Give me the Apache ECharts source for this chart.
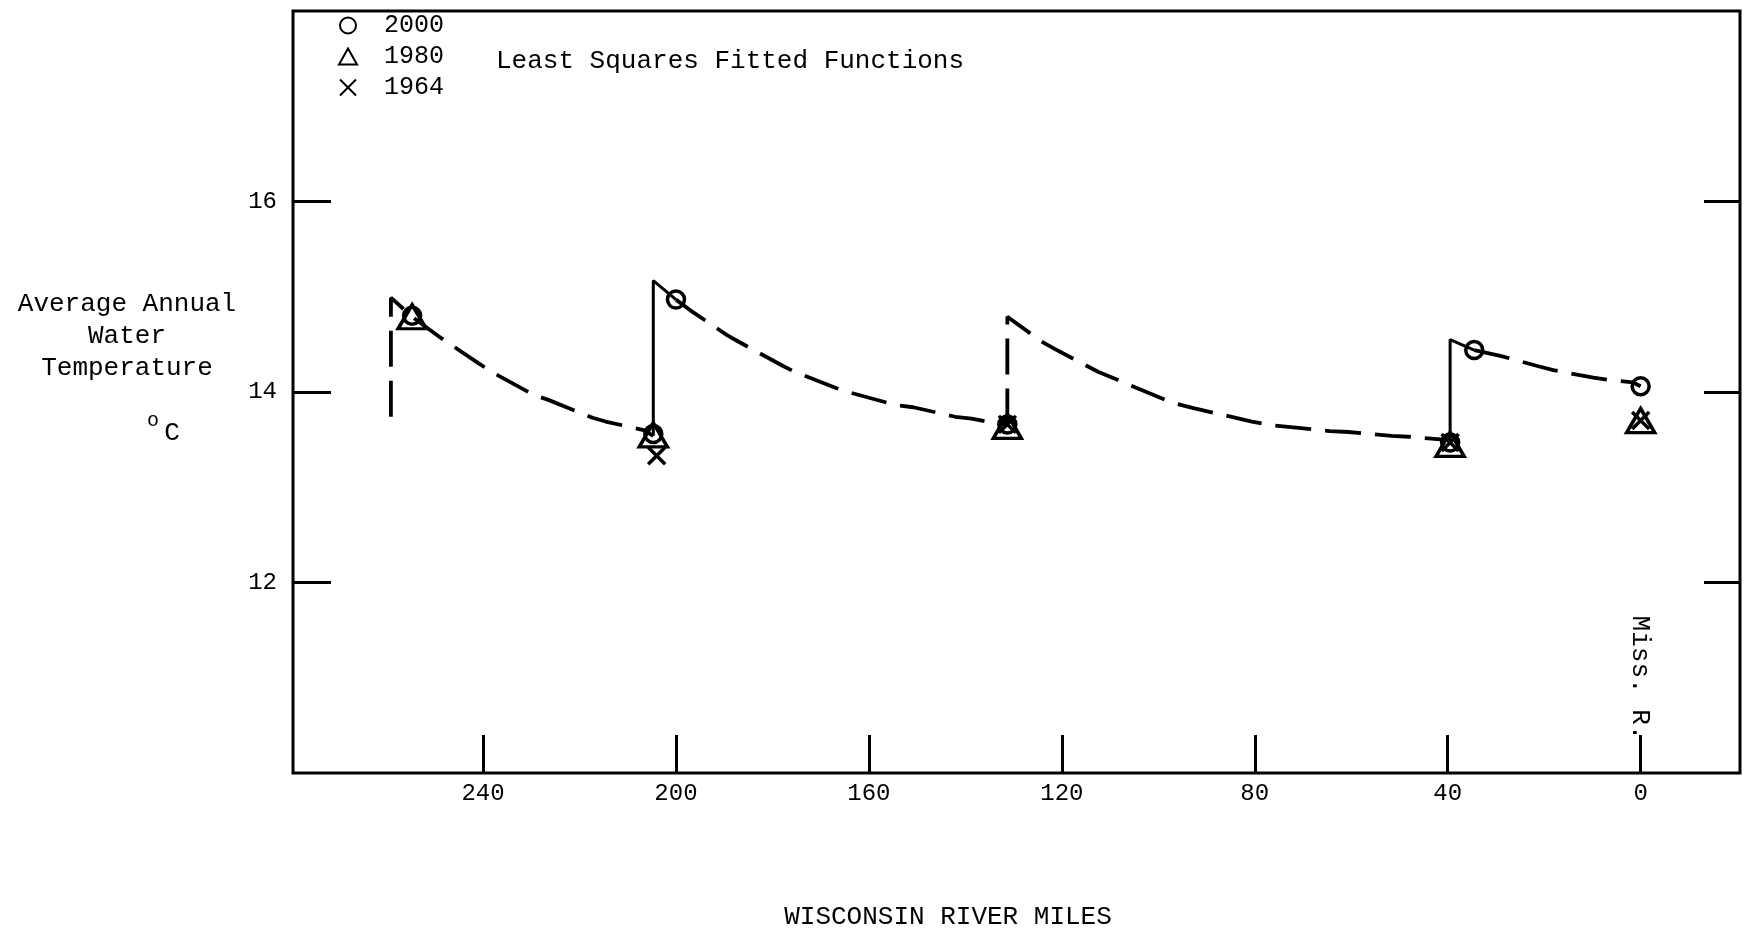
<!DOCTYPE html>
<html><head><meta charset="utf-8">
<script src="https://cdn.jsdelivr.net/npm/echarts@6/dist/echarts.min.js"></script>
<style>html,body{margin:0;padding:0;background:#fff}#c{width:1749px;height:935px}</style>
</head><body><div id="c"></div>
<script>
// ---- data (river mile, °C) ----
const xTicks = [240, 200, 160, 120, 80, 40, 0];
const yTicks = [12, 14, 16];
const legendNames = ['2000', '1980', '1964'];

const obs2000 = [[254.7,14.80],[204.7,13.56],[200.0,14.97],[131.3,13.66],[39.5,13.47],[34.5,14.44],[0,14.06]];
const obs1980 = [[254.7,14.79],[204.7,13.55],[131.3,13.64],[39.5,13.45],[0,13.70]];
const obs1964 = [[204.0,13.33],[131.3,13.66],[39.5,13.47],[0,13.70]];

const fit1 = [[259.1,13.74],[259.1,14.99],[254.7,14.79],[248.8,14.57],[240.9,14.30],[237.8,14.20],[229.5,13.97],[226.6,13.92],[217.3,13.73],[214.6,13.69],[206.7,13.60],[204.7,13.54]];
const fit2Rise = [[204.7,13.54],[204.7,15.17],[200.0,14.97]];
const fit2 = [[200.0,14.97],[197.1,14.86],[189.5,14.60],[187.1,14.53],[177.7,14.27],[175.3,14.21],[166.7,14.04],[163.6,13.99],[154.2,13.86],[150.8,13.84],[142.1,13.74],[138.7,13.72],[133.5,13.67],[131.3,13.65]];
const fit3 = [[131.3,13.66],[131.3,14.79],[124.2,14.53],[121.4,14.45],[112.4,14.21],[108.6,14.13],[97.2,13.89],[92.7,13.83],[80.6,13.69],[76.5,13.65],[64.4,13.59],[60.6,13.58],[51.6,13.54],[48.1,13.53],[40.9,13.50],[39.5,13.49]];
const fit4Rise = [[39.5,13.47],[39.5,14.55],[34.5,14.44]];
const fit4 = [[34.5,14.44],[29.1,14.38],[21.2,14.27],[18.1,14.23],[9.8,14.15],[7.0,14.13],[1.6,14.10],[0,14.06]];

const mono = '"Liberation Mono", "DejaVu Sans Mono", monospace';
const ink = '#000';

const dashed = d => ({ type: 'line', data: d, symbol: 'none', silent: true, z: 2,
  lineStyle: { color: ink, width: 3.8, type: [36, 14] } });
const solid = d => ({ type: 'line', data: d, symbol: 'none', silent: true, z: 2,
  lineStyle: { color: ink, width: 3, type: 'solid' } });
const markStyle = { color: 'transparent', borderColor: ink, borderWidth: 3.5, opacity: 1 };

const chart = echarts.init(document.getElementById('c'), null, { renderer: 'canvas' });
chart.setOption({
  animation: false,
  backgroundColor: '#fff',
  grid: { left: 293, right: 9, top: 11, bottom: 162, show: true, borderColor: ink, borderWidth: 3, backgroundColor: 'transparent' },
  xAxis: {
    type: 'value', inverse: true, min: -20.6, max: 279.4,
    axisLine: { show: false, onZero: false },
    splitLine: { show: false },
    axisTick: { show: true, inside: true, length: 38, customValues: xTicks, lineStyle: { color: ink, width: 3 } },
    axisLabel: { show: true, customValues: xTicks, margin: 9, fontSize: 24, fontFamily: mono, color: ink }
  },
  yAxis: [{
    type: 'value', min: 10, max: 18, position: 'left',
    axisLine: { show: false, onZero: false }, splitLine: { show: false },
    axisTick: { show: true, inside: true, length: 38, customValues: yTicks, lineStyle: { color: ink, width: 3 } },
    axisLabel: { show: true, customValues: yTicks, margin: 16, fontSize: 24, fontFamily: mono, color: ink }
  }, {
    type: 'value', min: 10, max: 18, position: 'right',
    axisLine: { show: false, onZero: false }, splitLine: { show: false },
    axisTick: { show: true, inside: true, length: 36, customValues: yTicks, lineStyle: { color: ink, width: 3 } },
    axisLabel: { show: false }
  }],
  legend: {
    orient: 'vertical', left: 338, top: 13, itemWidth: 18, itemHeight: 16, itemGap: 6, padding: 0,
    data: legendNames,
    textStyle: { fontSize: 25, fontFamily: mono, color: ink, padding: [0, 0, 0, 22] }
  },
  series: [
    dashed(fit1), solid(fit2Rise), dashed(fit2), dashed(fit3), solid(fit4Rise), dashed(fit4),
    { name: legendNames[0], type: 'scatter', data: obs2000, symbol: 'circle', symbolSize: 17, z: 5,
      itemStyle: markStyle },
    { name: legendNames[1], type: 'scatter', data: obs1980, symbol: 'triangle', symbolSize: [28, 24], z: 5,
      itemStyle: markStyle },
    { name: legendNames[2], type: 'scatter', data: obs1964, symbol: 'path://M0,0L10,10M10,0L0,10', symbolSize: 17, z: 5,
      itemStyle: markStyle }
  ],
  graphic: [
    { type: 'text', left: 496, top: 48, style: { text: 'Least Squares Fitted Functions', font: '26px ' + mono, fill: ink } },
    { type: 'text', x: 127, y: 336, style: { text: 'Average Annual\nWater\nTemperature', font: '26px ' + mono, fill: ink, align: 'center', verticalAlign: 'middle', lineHeight: 32 } },
    { type: 'text', x: 153, y: 421, style: { text: 'o', font: '20px ' + mono, fill: ink, align: 'center', verticalAlign: 'middle' } },
    { type: 'text', x: 172, y: 433, style: { text: 'C', font: '26px ' + mono, fill: ink, align: 'center', verticalAlign: 'middle' } },
    { type: 'text', x: 948, y: 917, style: { text: 'WISCONSIN RIVER MILES', font: '26px ' + mono, fill: ink, align: 'center', verticalAlign: 'middle' } },
    { type: 'text', x: 1640, y: 678, rotation: -Math.PI / 2, style: { text: 'Miss. R.', font: '26px ' + mono, fill: ink, align: 'center', verticalAlign: 'middle', backgroundColor: '#fff' } }
  ]
});
</script></body></html>
